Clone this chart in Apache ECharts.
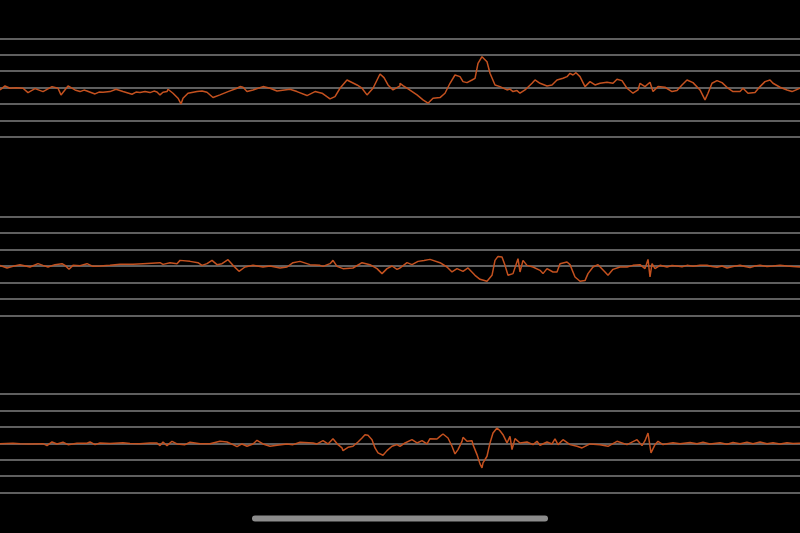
<!DOCTYPE html>
<html>
<head>
<meta charset="utf-8">
<script src="https://cdn.jsdelivr.net/npm/echarts@6/dist/echarts.min.js"></script>
<style>
html,body{margin:0;padding:0;background:#000;}
#c{width:800px;height:533px;}
</style>
</head>
<body>
<div id="c"></div>
<script>
// Channel 1 samples: [time, amplitude]
var channel1 = [
[0,-4.7],[5,3.3],[10,-1.3],[16,-0.5],[23,-1.3],[28,-10],[35,-2],[43,-8],[52,2],[58,-1.3],[61,-14.7],[68,3.3],[75,-4.7],[80,-8],[84,-5],[87,-6.7],[95,-12.7],[99,-9],[103,-9.3],[110,-8],[116,-3.3],[123,-8],[132,-13.3],[136,-9],[140,-10],[145,-8],[150,-10],[154,-7],[157,-8.7],[160,-14.7],[163,-9.3],[167,-8],[168,-3.3],[173,-11.3],[178,-21.3],[181,-32.7],[183,-21.3],[188,-11.3],[197,-8],[202,-7],[207,-9.3],[213,-20],[220,-14.7],[228,-8],[237,-1.3],[240,2],[243,0.7],[247,-8],[253,-4.7],[263,2],[270,-1.3],[277,-6.7],[290,-3.3],[297,-8],[307,-16],[315,-8],[322,-11.3],[330,-22.7],[335,-18],[340,-1.3],[347,15.3],[357,5.3],[362,-1.3],[367,-14.7],[373,-1.3],[380,27.3],[384,20],[388,5.3],[393,-4.7],[400,3.3],
[400,8.7],[403,4],[407,-1.3],[417,-14.7],[423,-24.7],[428,-31.3],[433,-21.3],[440,-20],[445,-11.3],[450,8.7],[455,25.3],[460,22],[463,12],[467,10],[472,15.3],[475,18.7],[478,48.7],[482,62],[487,52],[490,28.7],[495,5.3],[500,2],[507,-4.7],[510,-3],[513,-8],[517,-6],[520,-11.3],[525,-4.7],[532,8.7],[535,15.3],[540,8.7],[547,3.3],[552,5.3],[557,15.3],[563,18.7],[567,22],[570,28.7],[573,25.3],[576,30],[580,22],[585,2],[590,12],[595,5.3],[600,8.7],[607,10.7],[613,8.7],[617,16.7],[622,14],[627,-1.3],[633,-11.3],[638,-4.7],[640,8.7],[645,2],[650,10.7],[652,12],[653,-8],[658,2],[665,0.7],[672,-8],[677,-6],[682,5.3],[687,15.3],[693,10],[700,-4.7],[705,-24.7],[708,-11.3],[712,8.7],[717,14],[722,10],[728,-1.3],[733,-8],[740,-8],[743,-1.3],[748,-11.3],[755,-10],[760,2],[765,12],[770,15.3],[773,8.7],[780,0.7],[787,-4.7],[792,-8],[800,-1.3]
];
// Channel 2 samples
var channel2 = [
[0,1.3],[7,-4],[13,-0.7],[20,2.7],[30,-2],[38,4.7],[43,1.3],[48,-2],[55,2.7],[62,4.7],[65,1.3],[69,-6.7],[73,1.3],[80,0.7],[87,4.7],[93,-0.7],[100,0],[110,1.3],[120,3.3],[133,3.3],[143,4.7],[160,6.7],[163,3.3],[170,6.7],[177,4.7],[180,11.3],[190,9.3],[198,6.7],[202,1.3],[207,4.7],[212,11.3],[217,2.7],[222,4.7],[228,12.7],[233,1.3],[239,-10.7],[245,-2],[253,1.3],[263,-2],[270,0],[280,-4],[287,-2],[293,6.7],[300,9.3],[310,2.7],[320,1.3],[323,-0.7],[330,4.7],[333,11.3],[337,-0.7],[343,-5.3],[353,-4],[362,6.7],[370,2.7],[377,-5.3],[382,-15.3],[387,-5.3],[392,0],[397,-6.7],[400,-4],
[407,6.7],[412,2.7],[418,9.3],[424,11],[430,13.3],[440,6.7],[447,-2],[452,-12],[457,-5.3],[463,-10.7],[468,-4],[475,-18.7],[480,-26.7],[487,-30.7],[492,-18.7],[495,11.3],[498,19.3],[502,18],[505,1.3],[508,-18.7],[513,-15.3],[518,14.7],[520,-12],[523,11.3],[527,1.3],[533,-2],[540,-8.7],[543,-15.3],[547,-5.3],[553,-12],[557,-12],[560,4.7],[567,8],[570,2.7],[575,-22],[580,-30.7],[585,-29.3],[588,-15.3],[593,-2],[598,2.7],[605,-12],[608,-18.7],[613,-6.7],[620,-2],[627,-2],[633,1.3],[640,2.7],[645,-5.3],[648,13.3],[650,-22],[652,4.7],[655,-5.3],[660,1.3],[667,-2],[672,1],[677,0],[682,-1.5],[687,1.3],[693,-0.7],[700,1.5],[707,1.3],[712,-1],[717,-2.7],[722,0],[727,-4],[733,-1],[740,1.3],[745,-1],[750,-3.3],[755,0],[760,1.3],[767,-1],[773,0],[780,1.5],[787,0],[793,-1],[800,-2]
];
// Channel 3 samples
var channel3 = [
[0,-0.7],[13,0],[20,-1],[30,-1.3],[43,-0.7],[47,-4.7],[52,2.7],[57,-1.3],[63,2],[68,-2.7],[77,0],[87,0],[90,2.7],[95,-2.7],[100,0.7],[110,-0.5],[123,1.3],[130,-0.5],[140,-0.7],[150,0.5],[157,0.7],[160,-4.7],[163,2.7],[167,-4.7],[172,4],[177,-1.3],[185,-2.7],[190,2],[200,-0.7],[210,-0.7],[220,4],[227,2.7],[233,-2.7],[237,-6.7],[242,-1.3],[247,-6],[253,-1.3],[257,6],[263,-1.3],[270,-6],[277,-4],[287,-1.3],[293,-2.7],[300,2],[313,0.7],[317,-1.3],[323,5.3],[328,-1.3],[333,9.3],[338,-2.7],[342,-9.3],[343,-14.7],[348,-8],[353,-6],[358,2.7],[362,10.7],[365,17.3],[368,16],[372,7.3],[375,-9.3],[378,-19.3],[383,-24],[387,-14.7],[392,-6],[397,-2.7],[400,-6],
[405,0.7],[412,7.3],[417,0.7],[422,5.3],[427,-1.3],[430,9.3],[437,8.7],[440,14],[443,18.7],[448,10.7],[452,-6],[455,-21.3],[458,-12.7],[462,4],[463,12],[467,4],[472,5.3],[473,-2.7],[477,-22.7],[480,-41.3],[482,-49.3],[483,-39.3],[487,-26],[490,0.7],[493,20.7],[497,30.7],[500,25.3],[503,17.3],[507,0.7],[510,14],[512,-12.7],[515,9.3],[520,0.7],[527,2.7],[533,-2.7],[537,4],[540,-4],[547,2.7],[552,-1.3],[555,8.7],[558,-2.7],[563,7.3],[570,-2.7],[577,-6],[582,-9.3],[590,-1.3],[600,-2.7],[608,-6],[617,4],[627,-2.7],[637,7.3],[642,-4.7],[645,5.3],[648,20.7],[651,-19.3],[655,-2.7],[658,4],[663,-2.7],[667,-0.7],[673,1],[680,-1],[690,1.5],[697,-1],[703,2],[710,-1.5],[720,1],[727,-2],[733,1.5],[740,-1],[747,2],[753,-1],[760,2.5],[767,-1],[773,1],[780,-1.5],[787,1],[793,-0.5],[800,0]
];
var channels = [channel1, channel2, channel3];
var tops = [38.3, 216.7, 394];

var chart = echarts.init(document.getElementById('c'), null, {renderer: 'canvas'});
var grids = [], xAxes = [], yAxes = [], series = [];
channels.forEach(function (d, i) {
  grids.push({left: 0, right: 0, top: tops[i], height: 98.6});
  xAxes.push({type: 'value', gridIndex: i, min: 0, max: 800, show: false});
  yAxes.push({
    type: 'value', gridIndex: i, min: -99, max: 99, interval: 33,
    axisLabel: {show: false}, axisLine: {show: false}, axisTick: {show: false},
    splitLine: {show: true, lineStyle: {color: '#7f7f7f', width: 1.5}}
  });
  series.push({
    type: 'line', xAxisIndex: i, yAxisIndex: i, data: d, showSymbol: false,
    lineStyle: {color: '#c4511f', width: 1.5}, animation: false
  });
});
chart.setOption({
  backgroundColor: '#000',
  animation: false,
  grid: grids, xAxis: xAxes, yAxis: yAxes, series: series,
  graphic: [{
    type: 'rect', left: 252, top: 515.5,
    shape: {width: 296, height: 6, r: 3},
    style: {fill: '#8c8c8c'}
  }]
});
</script>
</body>
</html>
